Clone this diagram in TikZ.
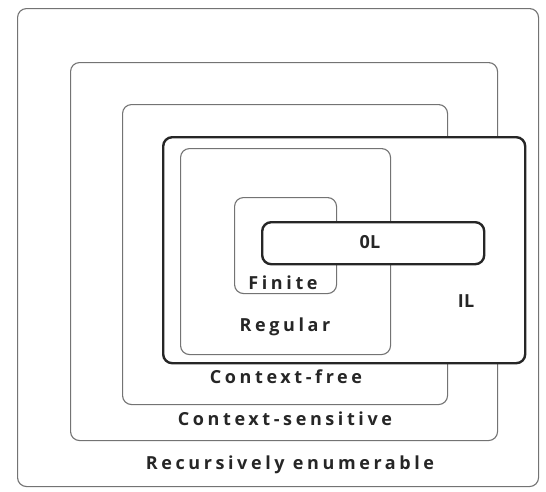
\documentclass[tikz,border=0pt]{standalone}
\usepackage{fontspec}
\setmainfont{Open Sans}
\newfontfamily\lblfont[LetterSpace=20]{Open Sans Bold}
\newfontfamily\tightfont[LetterSpace=2]{Open Sans Bold}
\begin{document}
\begin{tikzpicture}[x=1pt,y=-1pt,
  setbox/.style={draw=black!55, line width=1.1pt, rounded corners=9pt, fill=white, inner sep=0pt, anchor=north west},
  darkbox/.style={setbox, draw=black!85, line width=2.4pt},
  lbl/.style={font=\lblfont\fontsize{18}{20}\selectfont, text=black!85, inner sep=0pt},
  tlbl/.style={lbl, font=\tightfont\fontsize{18}{20}\selectfont}]
\useasboundingbox (0,0) rectangle (546,491);
\fill[white] (0,0) rectangle (546,491);
\node[setbox, minimum width=521pt, minimum height=478pt] (re) at (17,8) {};
\node[setbox, minimum width=427pt, minimum height=378pt] (cs) at (70,62) {};
\node[setbox, minimum width=325pt, minimum height=300pt] (cf) at (122,104) {};
\node[darkbox, minimum width=362pt, minimum height=226pt] (il) at (162,136) {};
\node[setbox, minimum width=210pt, minimum height=206pt] (reg) at (180,148) {};
\node[setbox, minimum width=102pt, minimum height=96pt] (fin) at (234,197) {};
\node[darkbox, minimum width=222pt, minimum height=42pt] (ol) at (261,221) {};
\node[tlbl] (lol) at (370,242) {0L};
\node[tlbl] (lil) at (466,301) {IL};
\node[lbl] (lfin) at (283,283) {Finite};
\node[lbl] (lreg) at (285,327) {Regular};
\node[lbl] (lcf) at (286,377) {Context-free};
\node[lbl] (lcs) at (285,419) {Context-sensitive};
\node[lbl] (lre) at (290,465) {Recursively enumerable};
\end{tikzpicture}
\end{document}
